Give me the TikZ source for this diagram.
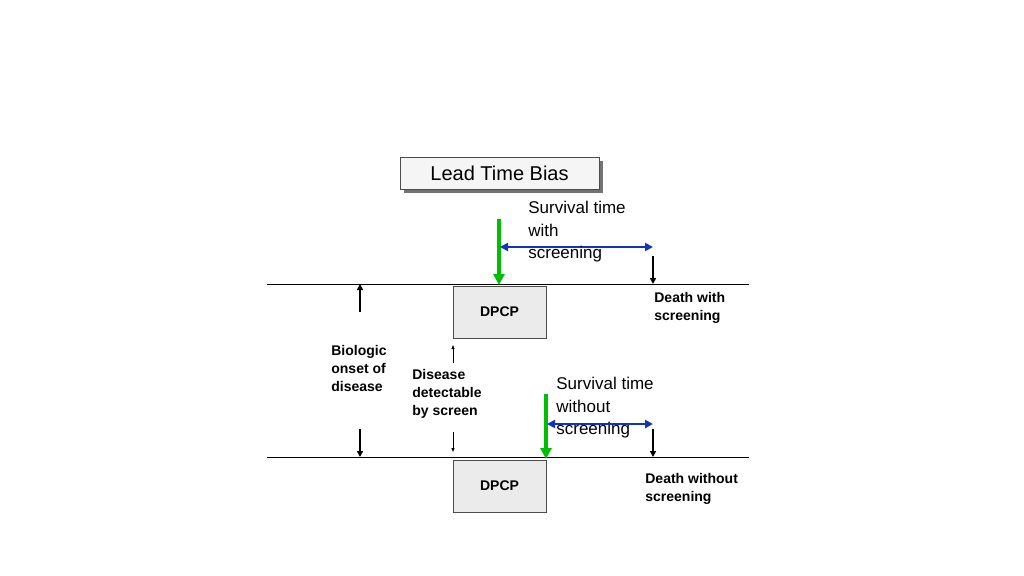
\documentclass[tikz,border=0pt]{standalone}
\usepackage{fontspec}
\setmainfont{Liberation Sans}
\usetikzlibrary{arrows.meta}
\tikzset{every picture/.style={line width=0.75pt}}
\tikzset{
  dpcp/.style={draw=black!70, fill=black!8, minimum width=93pt, minimum height=52pt, inner sep=0pt, font=\bfseries\fontsize{14}{16}\selectfont},
  lbl/.style={anchor=north west, inner sep=0pt, align=left, font=\bfseries\fontsize{14}{18}\selectfont},
  surv/.style={anchor=north west, inner sep=0pt, align=left, font=\fontsize{17}{22.5}\selectfont},
  green arrow/.style={draw={rgb,255:red,0;green,190;blue,0}, line width=3.5pt, -{Triangle[length=11pt,width=11pt]}},
  blue arrow/.style={draw={rgb,255:red,20;green,50;blue,190}, line width=2.5pt, {Triangle[length=8pt,width=8pt]}-{Triangle[length=8pt,width=8pt]}},
  black arrow/.style={line width=2pt, -{Triangle[length=6pt,width=6pt]}},
  thin arrow/.style={line width=0.8pt, -{Triangle[length=4pt,width=3pt]}}
}
\begin{document}
\begin{tikzpicture}[x=1pt,y=1pt,yscale=-1]
    \useasboundingbox (0,0) rectangle (1024,575);
    
    % title
    \fill[black!55] (404,161) rectangle (603,193);
    \node[draw=black!70, fill=black!4, minimum width=199pt, minimum height=32pt, inner sep=0pt, font=\fontsize{20}{24}\selectfont] (title) at (499.5,173) {Lead Time Bias};
    
    % time lines
    \coordinate (topL) at (267,284);
    \coordinate (topR) at (749,284);
    \coordinate (botL) at (267,457);
    \coordinate (botR) at (749,457);
    \draw (topL) -- (topR);
    \draw (botL) -- (botR);
    
    \node[dpcp] (dpcpA) at (499.5,312) {DPCP};
    \node[dpcp] (dpcpB) at (499.5,486) {DPCP};
    
    % screening, top
    \coordinate (gA1) at (499,219);
    \coordinate (gA2) at (499,285);
    \draw[green arrow] (gA1) -- (gA2);
    \coordinate (bA1) at (500,247);
    \coordinate (bA2) at (653,247);
    \draw[blue arrow] (bA1) -- (bA2);
    \coordinate (dA1) at (653,256);
    \coordinate (dA2) at (653,284);
    \draw[black arrow] (dA1) -- (dA2);
    
    % no screening, bottom
    \coordinate (gB1) at (546,394);
    \coordinate (gB2) at (546,459);
    \draw[green arrow] (gB1) -- (gB2);
    \coordinate (bB1) at (547,424);
    \coordinate (bB2) at (653,424);
    \draw[blue arrow] (bB1) -- (bB2);
    \coordinate (dB1) at (653,429);
    \coordinate (dB2) at (653,457);
    \draw[black arrow] (dB1) -- (dB2);
    
    % onset and detection
    \coordinate (oA1) at (360,312);
    \coordinate (oA2) at (360,284);
    \draw[black arrow] (oA1) -- (oA2);
    \coordinate (oB1) at (360,429);
    \coordinate (oB2) at (360,457);
    \draw[black arrow] (oB1) -- (oB2);
    \coordinate (sA1) at (453,363);
    \coordinate (sA2) at (453,345);
    \draw[thin arrow] (sA1) -- (sA2);
    \coordinate (sB1) at (453,432);
    \coordinate (sB2) at (453,452);
    \draw[thin arrow] (sB1) -- (sB2);
    
    % Text Node
    \node[surv] (survA) at (528,201) {Survival time\\with\\screening};
    \node[surv] (survB) at (556,377) {Survival time\\without\\screening};
    \node[lbl] (deathA) at (654,292) {Death with\\screening};
    \node[lbl] (deathB) at (645,473) {Death without\\screening};
    \node[lbl] (onset) at (331,345) {Biologic\\onset of\\disease};
    \node[lbl] (detect) at (412,369) {Disease\\detectable\\by screen};
\end{tikzpicture}
\end{document}
